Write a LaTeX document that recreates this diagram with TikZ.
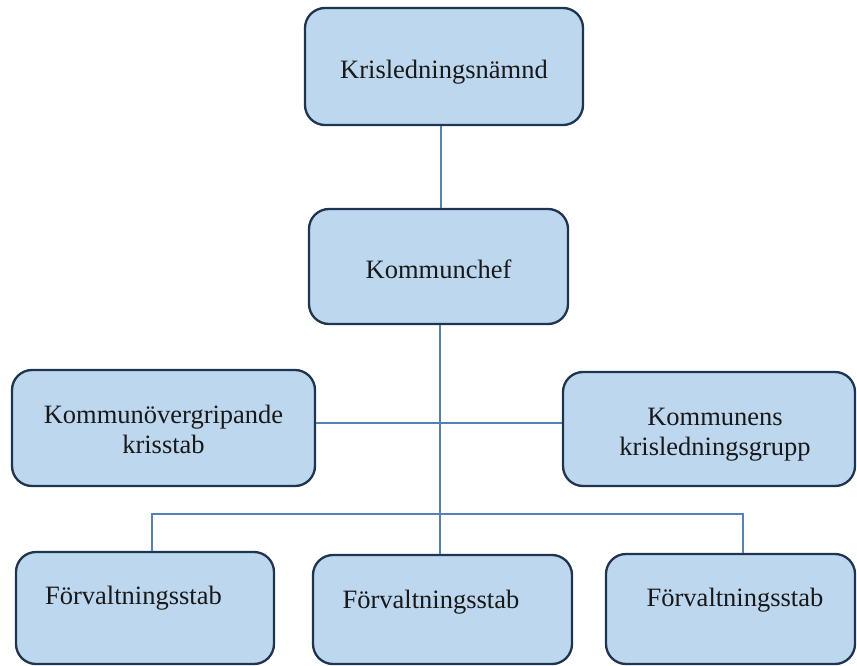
\documentclass[tikz,border=0pt]{standalone}
\usepackage{fontspec}
\setmainfont{Liberation Serif}
\definecolor{boxfill}{RGB}{189,215,238}
\definecolor{boxline}{RGB}{30,52,80}
\definecolor{connline}{RGB}{84,128,188}
\definecolor{txt}{RGB}{25,25,25}
\tikzset{
  orgbox/.style={draw=boxline, fill=boxfill, line width=2.3pt, rounded corners=20pt,
    inner sep=0pt, text=txt, align=center,
    font=\fontsize{26.5}{30}\selectfont},
  conn/.style={draw=connline, line width=1.3pt},
}
\begin{document}
\begin{tikzpicture}[x=1pt, y=-1pt]
\useasboundingbox (0,0) rectangle (857,666);

\node[orgbox, minimum width=278pt, minimum height=117pt, text height=29.2pt, text depth=6pt]
  (b1) at (444,66.5) {Krisledningsnämnd};
\node[orgbox, minimum width=259pt, minimum height=115pt, text height=29.2pt, text depth=6pt]
  (b2) at (438.5,266.5) {Kommunchef};
\node[orgbox, minimum width=303pt, minimum height=116pt]
  (b3) at (163.5,428) {\rule{0pt}{22pt}Kommunövergripande\\krisstab};
\node[orgbox, minimum width=292pt, minimum height=114pt]
  (b4) at (709,429) {\rule{0pt}{28pt}\hspace*{12pt}Kommunens\\\hspace*{12pt}krisledningsgrupp};
\node[orgbox, minimum width=258pt, minimum height=112pt, text height=18pt, text depth=25.8pt]
  (b5) at (145,608) {Förvaltningsstab\hspace*{23pt}};
\node[orgbox, minimum width=259pt, minimum height=109pt, text height=18pt, text depth=20.8pt]
  (b6) at (442.5,609.5) {Förvaltningsstab\hspace*{23pt}};
\node[orgbox, minimum width=249pt, minimum height=110pt, text height=18pt, text depth=23.8pt]
  (b7) at (730.5,609) {\hspace*{9pt}Förvaltningsstab};

\coordinate (spineTop) at (441,0);
\coordinate (spine) at (440,0);
\coordinate (midrow) at (0,423);
\coordinate (busL) at (152,514);
\coordinate (busR) at (743,514);

\draw[conn] (b1.south -| spineTop) -- (b2.north -| spineTop);
\draw[conn] (b2.south -| spine) -- (b6.north -| spine);
\draw[conn] (b3.east |- midrow) -- (b4.west |- midrow);
\draw[conn] (b5.north -| busL) -- (busL) -- (busR) -- (b7.north -| busR);
\end{tikzpicture}
\end{document}
